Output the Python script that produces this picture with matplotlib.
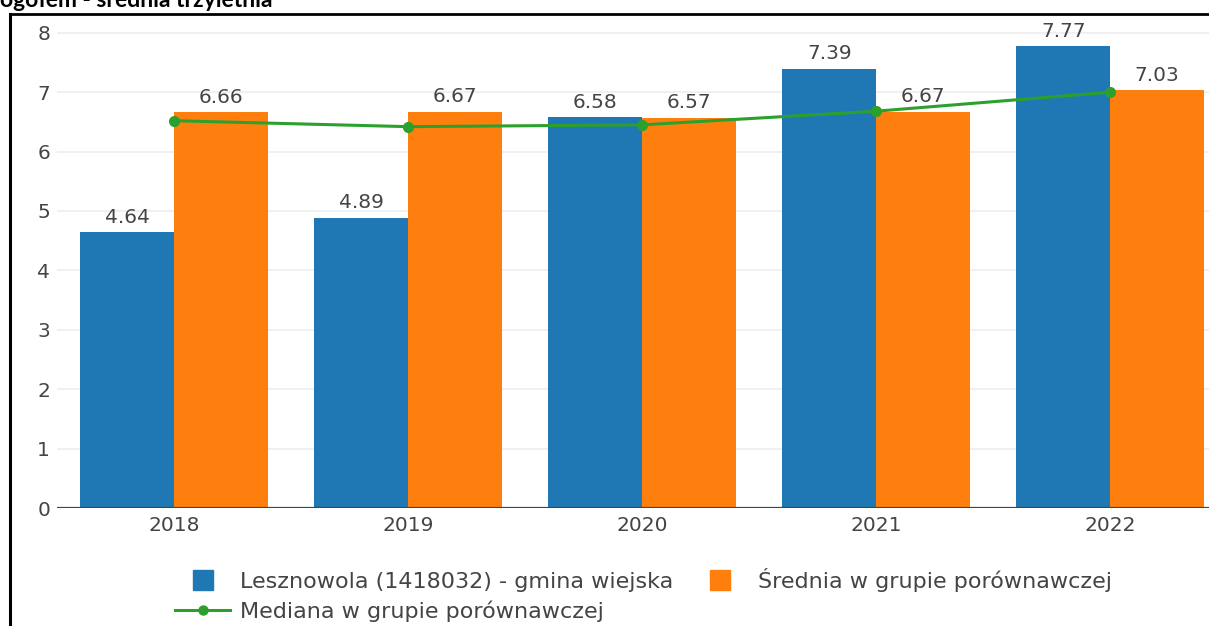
import matplotlib.pyplot as plt
from matplotlib.lines import Line2D
import numpy as np

years = ["2018", "2019", "2020", "2021", "2022"]
gmina = [4.64, 4.89, 6.58, 7.39, 7.77]
srednia = [6.66, 6.67, 6.57, 6.67, 7.03]
mediana = [6.52, 6.42, 6.45, 6.68, 7.00]

label_gmina = "Lesznowola (1418032) - gmina wiejska"
label_srednia = "Średnia w grupie porównawczej"
label_mediana = "Mediana w grupie porównawczej"
title = "ogółem - średnia trzyletnia"

BLUE = "#1f77b4"
ORANGE = "#ff7f0e"
GREEN = "#2ca02c"
GREY = "#444444"

W, H = 1209, 626
fig = plt.figure(figsize=(W / 100, H / 100), dpi=100)
plt.rcParams["font.family"] = ["DejaVu Sans"]

# plot area runs past the right edge of the screenshot
ax = fig.add_axes([57 / W, 1 - 508 / H, 1170 / W, 486 / H])
x = np.arange(len(years))
bw = 0.4
b1 = ax.bar(x - bw / 2, gmina, bw, color=BLUE, zorder=2)
b2 = ax.bar(x + bw / 2, srednia, bw, color=ORANGE, zorder=2)
ax.plot(x, mediana, color=GREEN, lw=2.2, marker="o", ms=7, zorder=3)

for bars in (b1, b2):
    ax.bar_label(bars, labels=[f"{v:.2f}" for v in bars.datavalues],
                 padding=4, fontsize=14.5, color=GREY)

ax.set_xlim(-0.5, 4.5)
ax.set_ylim(0, 486 / 59.4)
ax.set_yticks(range(0, 9))
ax.set_xticks(x, years)
ax.tick_params(length=0, labelsize=14.5, labelcolor=GREY)
ax.tick_params(axis="y", pad=5)
ax.tick_params(axis="x", pad=6)
for s in ax.spines.values():
    s.set_visible(False)
ax.grid(axis="y", color="#eeeeee", lw=1.2, zorder=0)
ax.axhline(0, color=GREY, lw=1.6, zorder=4)

handles = [
    Line2D([], [], ls="none", marker="s", ms=14.5, color=BLUE),
    Line2D([], [], color=GREEN, lw=2.2, marker="o", ms=6.5),
    Line2D([], [], ls="none", marker="s", ms=14.5, color=ORANGE),
]
fig.legend(handles, [label_gmina, label_mediana, label_srednia], ncol=2,
           loc="upper left", bbox_to_anchor=(175 / W, 1 - 568 / H),
           frameon=False, fontsize=16, labelcolor=GREY, borderpad=0,
           borderaxespad=0, handlelength=2.48, handletextpad=0.45,
           columnspacing=0.86, labelspacing=0.36)

# document frame and the heading, cropped at the top as in the screenshot
fig.add_artist(Line2D([10 / W, 10 / W], [0, 1 - 14 / H], color="black", lw=2.2))
fig.add_artist(Line2D([10 / W, 1], [1 - 14 / H, 1 - 14 / H], color="black", lw=2.0))
fig.text(0, 1 - 7 / H, title, fontsize=16.5, fontweight="bold",
         family=["Lato", "DejaVu Sans"], va="baseline", ha="left")

fig.savefig("out.png", dpi=100)
